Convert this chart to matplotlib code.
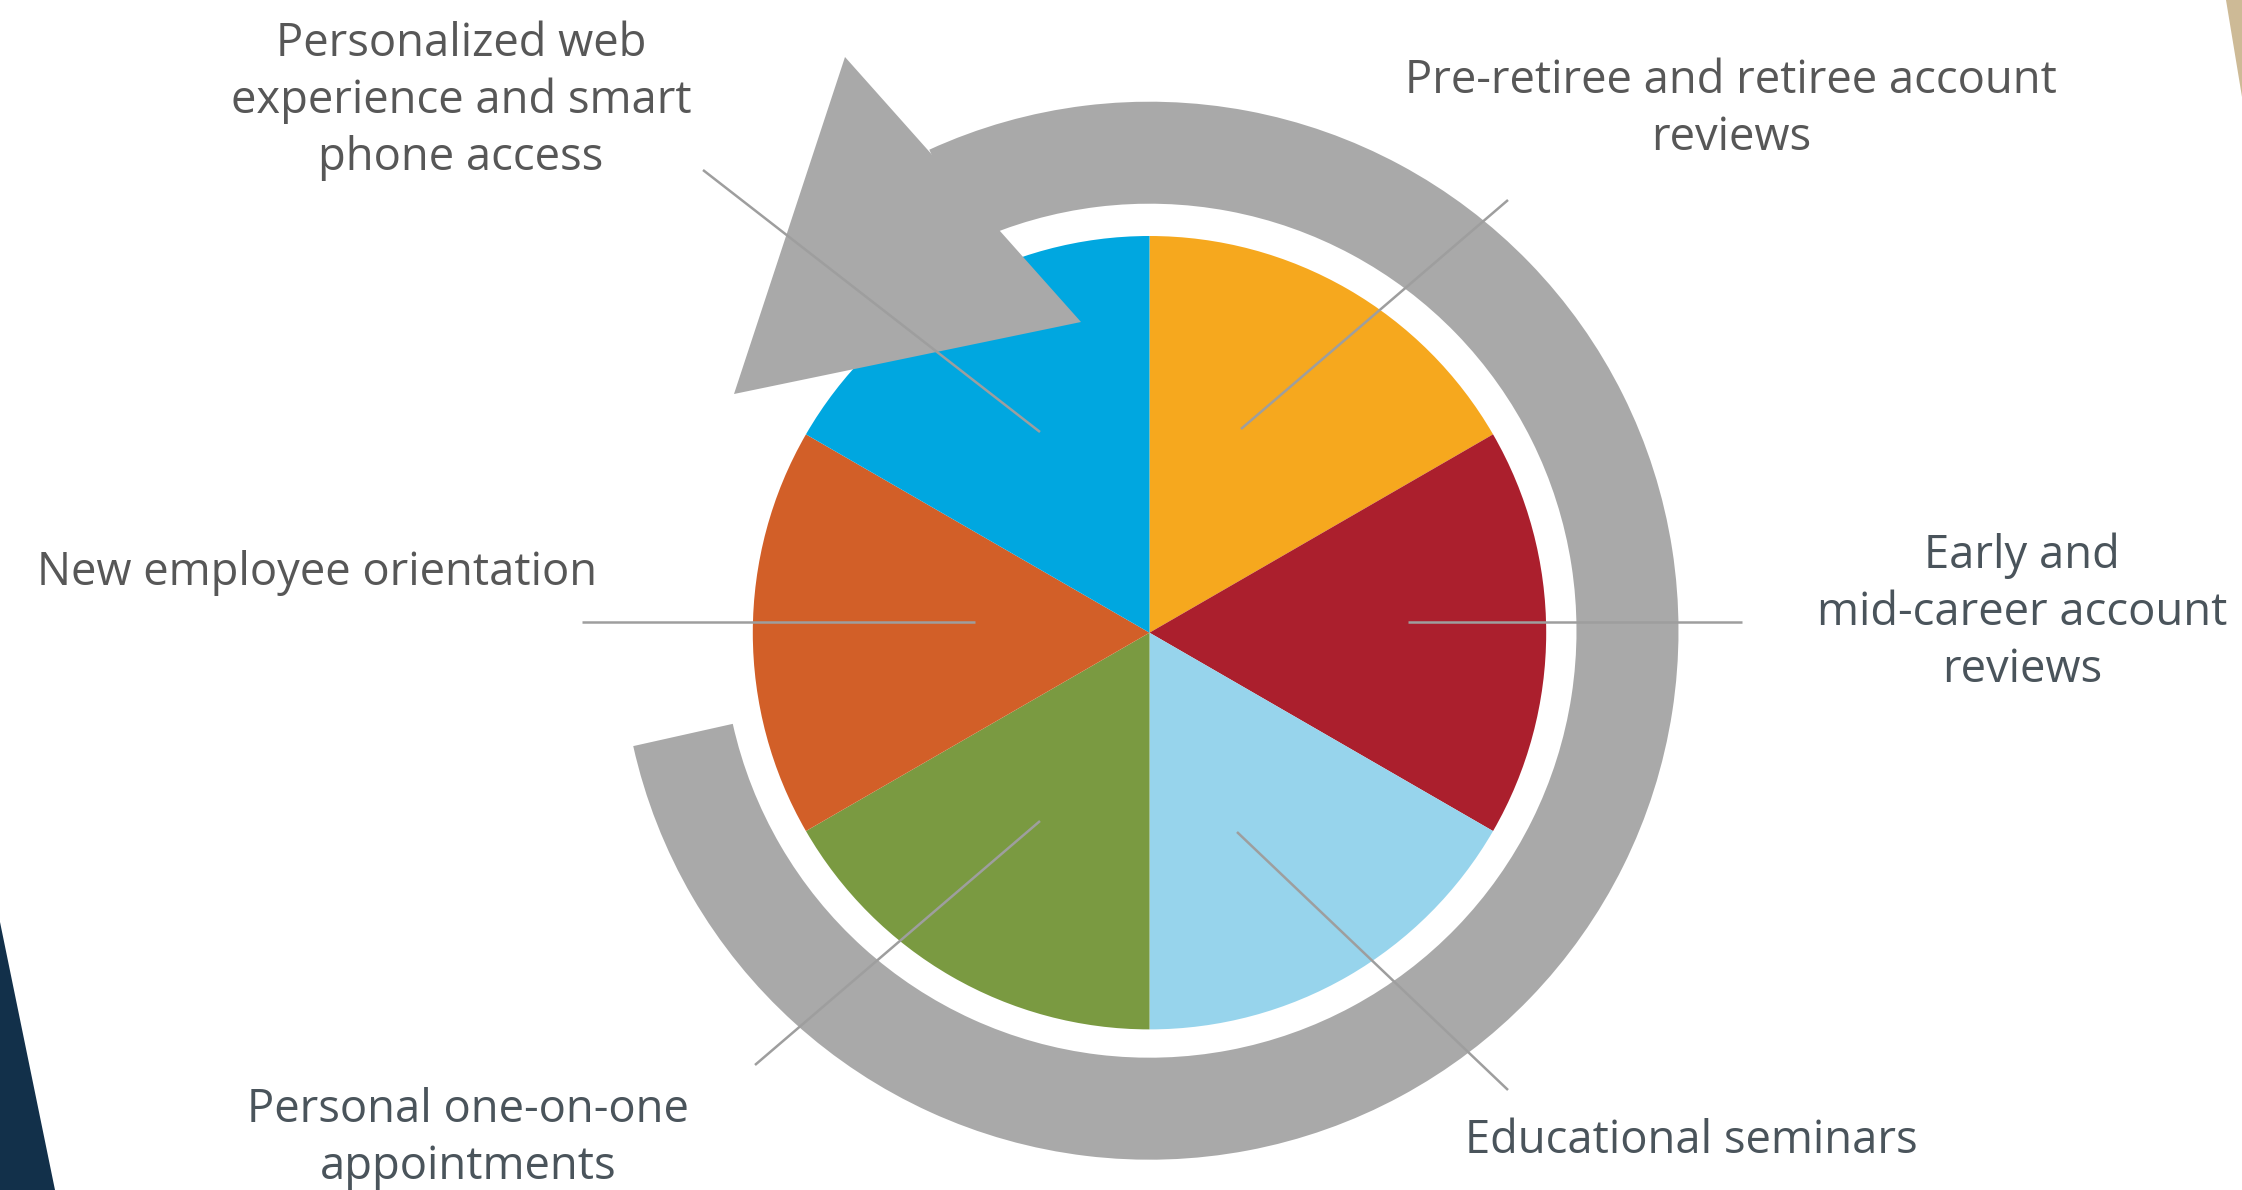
import matplotlib.pyplot as plt
from matplotlib.patches import Wedge, Polygon

# Data: six equal program elements, clockwise from 12 o'clock
labels = [
    "Pre-retiree and retiree account\nreviews",
    "Early and\nmid-career account\nreviews",
    "Educational seminars",
    "Personal one-on-one\nappointments",
    "New employee orientation",
    "Personalized web\nexperience and smart\nphone access",
]
values = [1, 1, 1, 1, 1, 1]
colors = ["#F6A81E", "#AB1F2D", "#97D4EC", "#7A9A41", "#D25F28", "#00A7E0"]

W, H = 2242, 1190
fig = plt.figure(figsize=(W / 100, H / 100), dpi=100)
ax = fig.add_axes([0, 0, 1, 1])

cx, cy = 1149.5, H - 630.7

# background corner shapes
ax.add_patch(Polygon([(0, H - 922), (55, 0), (0, 0)], closed=True, color="#12304A", lw=0))
ax.add_patch(Polygon([(2226, H), (W, H), (W, H - 97)], closed=True, color="#CDBA96", lw=0))

# pie
ax.pie(values, colors=colors, startangle=90, counterclock=False,
       center=(cx, cy - 2), radius=396.7, wedgeprops=dict(linewidth=0))

# circular arrow around the pie
gray = "#A9A9A9"
ax.add_patch(Wedge((cx, cy), 529, -167.4, 114.6, width=102, color=gray, lw=0, zorder=3))
ax.add_patch(Polygon([(845, H - 57), (1081, H - 322), (734, H - 394)], closed=True,
                     color=gray, lw=0, zorder=3))

# leader lines (pixel coords, y down)
leaders = [
    ((1508, 200), (1241, 429)),
    ((1408, 622), (1742, 622)),
    ((1237, 832), (1508, 1090)),
    ((755, 1065), (1040, 821)),
    ((582, 622), (975, 622)),
    ((703, 170), (1040, 432)),
]
for (x0, y0), (x1, y1) in leaders:
    ax.plot([x0, x1], [H - y0, H - y1], color="#9E9E9E", lw=1.8, zorder=4,
            solid_capstyle="butt")

# label text: centre x, first baseline (pixel, y down), colour
text_pos = [
    (1731, 93, "#575757"),
    (2022, 568, "#4A545B"),
    (1691, 1153, "#4A545B"),
    (468, 1122, "#4A545B"),
    (317, 585, "#575757"),
    (461, 56, "#575757"),
]
step = 57
for lab, (x, yb, col) in zip(labels, text_pos):
    for i, line in enumerate(lab.split("\n")):
        ax.text(x, H - (yb + i * step), line, ha="center", va="baseline",
                fontsize=32.7, family="Open Sans", color=col, zorder=5)

ax.set_xlim(0, W)
ax.set_ylim(0, H)
ax.set_aspect("equal")
ax.axis("off")
fig.savefig("out.png", dpi=100, facecolor="white")
